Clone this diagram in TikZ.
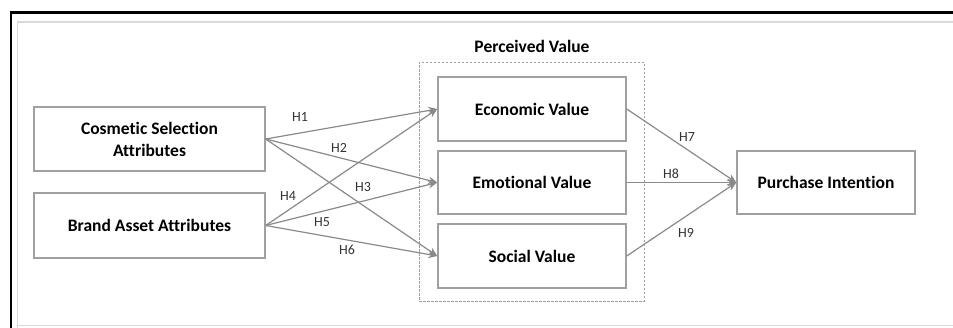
\documentclass[tikz,border=0pt]{standalone}
\usepackage{fontspec}
\setmainfont[Ligatures=NoCommon]{Carlito}
\usetikzlibrary{arrows.meta}
\definecolor{boxgray}{HTML}{A0A0A0}
\definecolor{arrgray}{HTML}{8A8A8A}
\definecolor{framegray}{HTML}{DADADA}
\begin{document}
\begin{tikzpicture}[x=1pt,y=-1pt,
  box/.style={draw=boxgray,line width=1.4pt,rectangle,inner sep=0pt,align=center,
    font=\fontsize{17.5}{22}\selectfont\bfseries},
  conn/.style={draw=arrgray,line width=1.2pt,-{Stealth[length=9pt,width=7.5pt]}},
  hlab/.style={font=\fontsize{14}{16}\selectfont,text=black!80,inner sep=0pt},
  title/.style={font=\fontsize{17.5}{22}\selectfont\bfseries,inner sep=0pt}]
\useasboundingbox (0,0) rectangle (953,327);
% frames
\draw[black,line width=2.2pt] (11,340) -- (11,12.5) -- (960,12.5);
\draw[framegray,line width=1.5pt] (17.5,340) -- (17.5,22) -- (960,22);
\draw[framegray,line width=1.5pt] (17.5,325.5) -- (960,325.5);
% nodes
\node[box,minimum width=231pt,minimum height=64pt] (cos) at (149.5,139) {Cosmetic Selection\\Attributes};
\node[box,minimum width=231pt,minimum height=65pt] (bra) at (149.5,225.5) {Brand Asset Attributes};
\node[box,minimum width=188pt,minimum height=64pt] (eco) at (532,109) {Economic Value};
\node[box,minimum width=188pt,minimum height=63pt] (emo) at (532,182.5) {Emotional Value};
\node[box,minimum width=188pt,minimum height=64pt] (soc) at (532,256) {Social Value};
\node[box,minimum width=178pt,minimum height=63pt] (pur) at (826,182.5) {Purchase Intention};
\node[draw=boxgray,dash pattern=on 2.5pt off 1.5pt,line width=1pt,rectangle,inner sep=0pt,
  minimum width=225pt,minimum height=239pt] (pv) at (531.5,181.5) {};
\node[title] (pvl) at (532,46) {Perceived Value};
% connectors
\draw[conn] (cos.east) -- (eco.west);
\draw[conn] (cos.east) -- (emo.west);
\draw[conn] (cos.east) -- (soc.west);
\draw[conn] (bra.east) -- (eco.west);
\draw[conn] (bra.east) -- (emo.west);
\draw[conn] (bra.east) -- (soc.west);
\draw[conn] (eco.east) -- (pur.west);
\draw[conn] (emo.east) -- (pur.west);
\draw[conn] (soc.east) -- (pur.west);
% labels
\node[hlab] (h1) at (300,117) {H1};
\node[hlab] (h2) at (339,148) {H2};
\node[hlab] (h3) at (363,187) {H3};
\node[hlab] (h4) at (288,196) {H4};
\node[hlab] (h5) at (322,222) {H5};
\node[hlab] (h6) at (347,250) {H6};
\node[hlab] (h7) at (687,137) {H7};
\node[hlab] (h8) at (671,174) {H8};
\node[hlab] (h9) at (686,233) {H9};
\end{tikzpicture}
\end{document}
